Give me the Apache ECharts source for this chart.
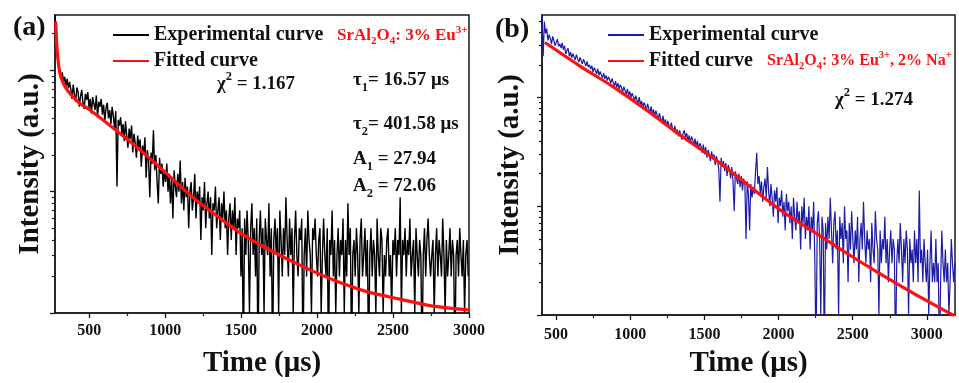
<!DOCTYPE html>
<html>
<head>
<meta charset="utf-8">
<script src="https://cdn.jsdelivr.net/npm/echarts@6/dist/echarts.min.js"></script>
<style>html,body{margin:0;padding:0;background:#fff}#c{width:959px;height:383px}</style>
</head>
<body>
<div id="c"></div>
<script>
// ---------------- data ----------------
const leftTimeStart = 275, leftTimeStep = 8;   // μs, one value per channel
const leftExperimental = [
  285,190,128,104,92,84,96,80,88,74,85,71,80,
  70,58,76,63,55,72,66,50,61,69,54,48,64,57,66,49,58,44,60,53,
  47,62,41,55,50,58,43,52,38,49,54,40,47,36,50,42,33,46,11,39,35,
  41,30,36,26,38,29,23,33,27,35,21,30,25,19,29,23,27,16,24,20,
  28,13,22,18,9,21,17,32,15,20,12,8,19,14,17,11,15,
  12,17,10,14,8,13,6,15,11,9,14,10,18,8,12,7,13,9,11,5,
  10,12,7,9,14,6,10,8,11,4,9,7,12,5,8,10,6,9,3,8,
  7,11,5,7,9,4,8,6,10,5,7,3,6,8,4,7,5,9,3,6,5,7,2,
  5,0,6,3,7,4,1,5,8,3,5,2,6,0,4,7,3,5,1,6,4,3,8,2,5,0,4,6,3,5,
  1,7,4,2,5,3,9,4,2,6,3,5,1,4,7,3,2,5,4,6,0,3,5,2,7,4,3,1,5,4,6,3,
  2,4,5,1,3,6,3,2,5,0,4,3,7,2,4,1,3,5,2,4,3,6,1,4,2,8,3,5,0,3,
  4,2,5,3,1,4,6,2,3,5,2,4,0,3,5,2,4,3,1,6,3,2,5,4,1,3,2,4,5,2,3,1,4,
  3,5,2,4,3,9,1,4,3,5,2,4,3,6,2,3,4,1,5,3,2,4,3,0,3,5,2,4,6,3,
  2,3,4,1,3,5,2,4,3,2,6,3,1,4,2,3,5,2,4,3,0,3,4,2,5,3,2,4,1,3,4,2
];
const leftFitted = [
  [275,250],[280,244],[286,168],[297,116],[312,89.5],[341,73],[385,61.7],[439,53.2],[505,47],
  [683,31.5],[854,21],[1012,14.0],[1176,9.1],[1341,6.3],[1492,4.6],[1670,3.4],[1887,2.48],
  [2104,1.88],[2328,1.50],[2545,1.30],[2762,1.14],[3000,1.06]
];
const rightTimeStart = 405, rightTimeStep = 8;  // μs, one value per channel
const rightExperimental = [
  570,240,500,390,430,335,380,350,310,365,
  335,300,322,345,296,312,285,318,276,300,
  252,272,284,240,262,232,254,244,222,248,
  228,212,234,219,203,226,210,195,215,191,
  200,183,196,172,188,178,165,184,160,174,
  162,152,168,149,160,143,156,146,135,150,
  138,128,142,124,136,120,131,123,113,126,
  116,108,120,104,114,100,110,102,94,104,
  96,88,101,85,93,81,90,84,77,88,
  79,72,83,70,78,67,76,69,63,72,
  64,59,68,57,63,55,61,56,51,59,
  52,48,55,46,51,44,50,45,41,47,
  50,43,47,40,45,38,44,41,36,42,
  35,40,33,38,36,31,37,30,35,28,
  33,30,26,32,27,30,24,29,26,22,
  11,28,23,26,21,25,19,24,22,18,
  23,17,9,21,18,16,20,15,19,14,
  18,16,5,17,13,6,16,12,15,13,
  21,31,16,19,13,17,11,15,18,12,
  23,14,10,16,12,8,14,11,15,7,
  12,10,14,8,11,6,13,9,11,7,
  10,5,12,8,6,11,7,9,4,10,
  7,12,5,8,6,10,4,8,6,11,
  3,0,7,9,5,1,8,6,0,7,
  4,8,5,12,6,3,7,9,4,6,
  1,8,5,7,3,10,5,6,2,7,
  4,9,5,3,6,4,8,2,5,7,
  4,11,5,3,6,4,5,2,7,4,
  3,9,5,4,1,6,3,5,4,8,
  3,5,2,4,6,3,5,4,0,3,
  5,3,7,4,2,5,3,6,4,1,
  5,3,4,2,6,3,5,2,14,3,
  4,2,5,3,2,4,1,3,6,2,
  3,2,5,2,3,0,2,6,3,2,
  4,2,3,1,2,5,3,2,3
];
const rightFitted = [
  [425,321],[661,195],[883,126],[1113,76],[1335,45.3],[1557,28],[1786,16],[2009,9.3],
  [2231,5.9],[2460,3.7],[2683,2.4],[2905,1.6],[3188,0.98]
];
const xTickLabels = [500,1000,1500,2000,2500,3000];
const xMinorTicks = [750,1250,1750,2250,2750];
const yMajorTicks = [1,10,100];
const yMinorTicksLeft = [2,3,4,5,6,7,8,9,20,30,40,50,60,70,80,90,200];
const yMinorTicksRight = [2,3,4,5,6,7,8,9,20,30,40,50,60,70,80,90,200,300,400,500];
const leftRange = {xMin:275, xMax:3000, yMin:1, yMax:285};
const rightRange = {xMin:405, xMax:3190, yMin:1, yMax:575};

// ---------------- chart ----------------
const FONT = '"Liberation Serif","Times New Roman",serif';
const AX = '#1a1a1a';
// zero counts cannot sit on a log axis: put them just below the axis floor (clipped)
const countsToPoints = (arr, t0, dt) => arr.map((v, i) => [t0 + i * dt, v > 0 ? v : 0.4]);

function xAxesFor(grid, r, labelMargin, nameGap) {
  return [{
    gridIndex: grid, type: 'value', min: r.xMin, max: r.xMax, position: 'bottom',
    axisLine: {show: true, lineStyle: {color: AX, width: 1.5}},
    axisTick: {show: true, customValues: xTickLabels, length: 5, lineStyle: {color: AX, width: 1.3}},
    axisLabel: {customValues: xTickLabels, formatter: v => String(v), margin: labelMargin,
                fontFamily: FONT, fontWeight: 'bold', fontSize: 16, color: '#111'},
    splitLine: {show: false},
    name: 'Time (μs)', nameLocation: 'middle', nameGap: nameGap,
    nameTextStyle: {fontFamily: FONT, fontWeight: 'bold', fontSize: 29, color: '#111'}
  }, {
    gridIndex: grid, type: 'value', min: r.xMin, max: r.xMax, position: 'bottom', offset: 0,
    axisLine: {show: false},
    axisTick: {show: true, customValues: xMinorTicks, length: 3, lineStyle: {color: AX, width: 1.2}},
    axisLabel: {show: false}, splitLine: {show: false}
  }];
}
function yAxesFor(grid, r, minors, nameGap) {
  const lmin = Math.log10(r.yMin), lmax = Math.log10(r.yMax);
  return [{
    gridIndex: grid, type: 'log', logBase: 10, min: r.yMin, max: r.yMax, position: 'left',
    axisLine: {show: true, lineStyle: {color: AX, width: 1.5}},
    axisTick: {show: false}, axisLabel: {show: false}, splitLine: {show: false}, minorTick: {show: false},
    name: 'Intensity (a.u.)', nameLocation: 'middle', nameGap: nameGap,
    nameTextStyle: {fontFamily: FONT, fontWeight: 'bold', fontSize: 29, color: '#111'}
  }, {
    gridIndex: grid, type: 'value', min: lmin, max: lmax, position: 'left', offset: 0,
    axisLine: {show: false},
    axisTick: {show: true, customValues: yMajorTicks.map(Math.log10), length: 5, lineStyle: {color: AX, width: 1.3}},
    axisLabel: {show: false}, splitLine: {show: false}
  }, {
    gridIndex: grid, type: 'value', min: lmin, max: lmax, position: 'left', offset: 0,
    axisLine: {show: false},
    axisTick: {show: true, customValues: minors.map(Math.log10), length: 3, lineStyle: {color: AX, width: 1.2}},
    axisLabel: {show: false}, splitLine: {show: false}
  }];
}

function rich(main, small, color, lh) {
  return {
    m: {fontFamily: FONT, fontWeight: 'bold', fontSize: main, lineHeight: lh, fill: color, verticalAlign: 'middle'},
    b: {fontFamily: FONT, fontWeight: 'bold', fontSize: small, lineHeight: small, fill: color, verticalAlign: 'bottom'},
    t: {fontFamily: FONT, fontWeight: 'bold', fontSize: small, lineHeight: small, fill: color, verticalAlign: 'top'}
  };
}
function txt(x, y, text, r) {
  return {type: 'text', x: x, y: y, silent: true, z: 100,
    style: {text: text, rich: r, align: 'left', verticalAlign: 'middle'}};
}
const RED = '#ff1010';
const redRich = rich(17, 11, RED, 22);
const redRichB = rich(16, 10.5, RED, 22);
const blackRich = rich(19, 12.5, '#111', 28);

const legendBase = {
  orient: 'vertical', itemWidth: 36, itemHeight: 14, itemGap: 6, selectedMode: false,
  itemStyle: {color: 'rgba(0,0,0,0)', borderWidth: 0, opacity: 0},
  textStyle: {fontFamily: FONT, fontWeight: 'bold', fontSize: 20, color: '#111'},
  formatter: name => name.split('|')[0]
};

const chart = echarts.init(document.getElementById('c'));
chart.setOption({
  animation: false,
  backgroundColor: '#fff',
  grid: [
    {left: 55, top: 15, width: 414, height: 304, show: true, borderColor: AX, borderWidth: 1.5, backgroundColor: 'transparent'},
    {left: 542, top: 15, width: 413, height: 305, show: true, borderColor: AX, borderWidth: 1.5, backgroundColor: 'transparent'}
  ],
  xAxis: [...xAxesFor(0, leftRange, 10, 36), ...xAxesFor(1, rightRange, 12, 34)],
  yAxis: [...yAxesFor(0, leftRange, yMinorTicksLeft, 10), ...yAxesFor(1, rightRange, yMinorTicksRight, 17)],
  legend: [
    Object.assign({}, legendBase, {left: 107, top: 20, data: ['Experimental curve|a', 'Fitted curve|a']}),
    Object.assign({}, legendBase, {left: 602, top: 20, data: ['Experimental curve|b', 'Fitted curve|b']})
  ],
  series: [
    {name: 'Experimental curve|a', type: 'line', xAxisIndex: 0, yAxisIndex: 0, symbol: 'none', showSymbol: false,
     data: countsToPoints(leftExperimental, leftTimeStart, leftTimeStep), clip: true,
     lineStyle: {color: '#000', width: 1.4}, itemStyle: {color: '#000'}, z: 2},
    {name: 'Fitted curve|a', type: 'line', xAxisIndex: 0, yAxisIndex: 0, symbol: 'none', showSymbol: false,
     data: leftFitted, smooth: 0.3, clip: true,
     lineStyle: {color: RED, width: 3.2}, itemStyle: {color: RED}, z: 3},
    {name: 'Experimental curve|b', type: 'line', xAxisIndex: 2, yAxisIndex: 3, symbol: 'none', showSymbol: false,
     data: countsToPoints(rightExperimental, rightTimeStart, rightTimeStep), clip: true,
     lineStyle: {color: '#1c1ca6', width: 1.2}, itemStyle: {color: '#1c1ca6'}, z: 2},
    {name: 'Fitted curve|b', type: 'line', xAxisIndex: 2, yAxisIndex: 3, symbol: 'none', showSymbol: false,
     data: rightFitted, smooth: 0.3, clip: true,
     lineStyle: {color: RED, width: 3.2}, itemStyle: {color: RED}, z: 3}
  ],
  graphic: [
    {type: 'text', x: 13, y: 28, silent: true, style: {text: '(a)', font: 'bold 28px ' + FONT, fill: '#111', verticalAlign: 'middle'}},
    {type: 'text', x: 495, y: 30, silent: true, style: {text: '(b)', font: 'bold 28px ' + FONT, fill: '#111', verticalAlign: 'middle'}},
    txt(337, 36, '{m|SrAl}{b|2}{m|O}{b|4}{m|: 3% Eu}{t|3+}', redRich),
    txt(217, 84, '{m|χ}{t|2}{m| = 1.167}', blackRich),
    txt(353, 80, '{m|τ}{b|1}{m|= 16.57 μs}', blackRich),
    txt(353, 124, '{m|τ}{b|2}{m|= 401.58 μs}', blackRich),
    txt(353, 159, '{m|A}{b|1}{m| = 27.94}', blackRich),
    txt(353, 186, '{m|A}{b|2}{m| = 72.06}', blackRich),
    txt(767, 61, '{m|SrAl}{b|2}{m|O}{b|4}{m|: 3% Eu}{t|3+}{m|, 2% Na}{t|+}', redRichB),
    txt(835, 100, '{m|χ}{t|2}{m| = 1.274}', blackRich)
  ]
});
</script>
</body>
</html>
